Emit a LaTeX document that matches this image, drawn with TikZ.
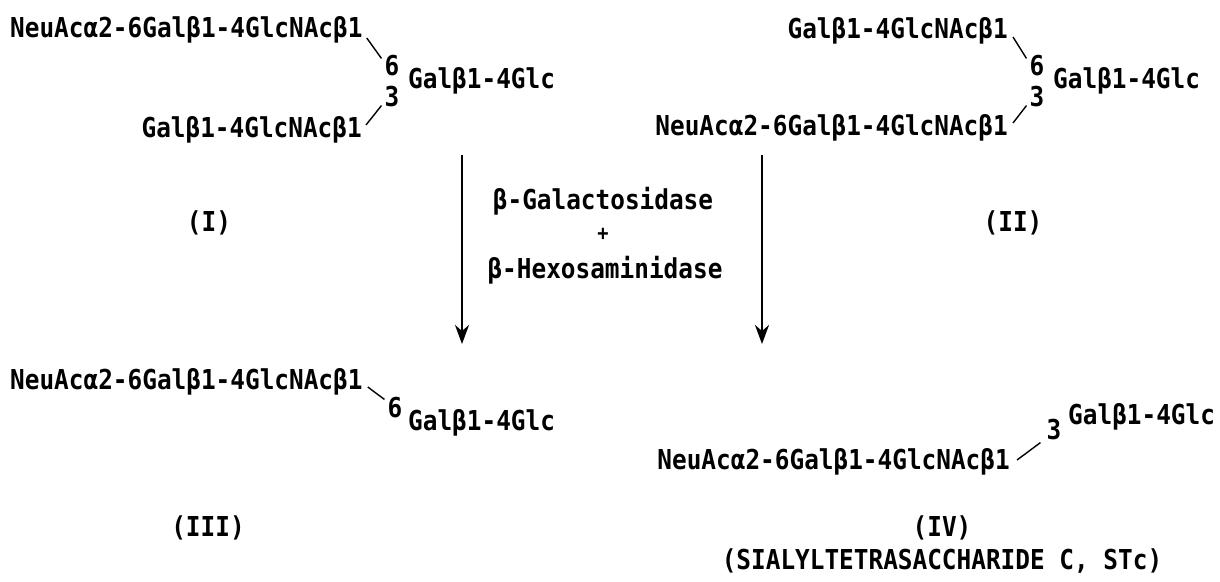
\documentclass[tikz,border=0pt]{standalone}
\usepackage{fontspec}
\setmainfont{DejaVu Sans Mono}[FakeStretch=0.89]
\usetikzlibrary{arrows.meta}
\tikzset{
  txt/.style={inner sep=0pt, font=\bfseries\fontsize{27.4}{29}\selectfont},
  plus/.style={inner sep=0pt, font=\bfseries\fontsize{21}{23}\selectfont},
  link/.style={line width=1.4pt},
  rxn/.style={line width=2pt, -{Stealth[length=19pt,width=14pt,inset=6pt]}}
}
\begin{document}
\begin{tikzpicture}[x=1pt,y=-1pt]
\useasboundingbox[fill=white] (0,0) rectangle (1220,581);
% ---- Structure I
\node[txt,anchor=west] (Ia) at (10,30) {NeuAcα2-6Galβ1-4GlcNAcβ1};
\node[txt] (I6) at (392,66) {6};
\node[txt] (I3) at (392,97) {3};
\node[txt,anchor=west] (Ir) at (408,81) {Galβ1-4Glc};
\node[txt,anchor=east] (Ib) at (362,130) {Galβ1-4GlcNAcβ1};
\draw[link] ([xshift=4pt,yshift=-8pt]Ia.east) -- ([xshift=-3pt,yshift=-3pt]I6.north west);
\draw[link] ([xshift=4pt,yshift=5pt]Ib.east) -- ([xshift=-3pt,yshift=2pt]I3.south west);
\node[txt] (Il) at (209,223) {(I)};
% ---- Structure II
\node[txt,anchor=east] (IIa) at (1008,31) {Galβ1-4GlcNAcβ1};
\node[txt] (II6) at (1037,66) {6};
\node[txt] (II3) at (1037,97) {3};
\node[txt,anchor=west] (IIr) at (1053,81) {Galβ1-4Glc};
\node[txt,anchor=east] (IIb) at (1008,128) {NeuAcα2-6Galβ1-4GlcNAcβ1};
\draw[link] ([xshift=5pt,yshift=-6pt]IIa.east) -- ([xshift=-3pt,yshift=-3pt]II6.north west);
\draw[link] ([xshift=5pt,yshift=5pt]IIb.east) -- ([xshift=-3pt,yshift=2pt]II3.south west);
\node[txt] (IIl) at (1013,223) {(II)};
% ---- arrows and enzymes
\coordinate (LAs) at (462,155);
\coordinate (LAe) at (462,344);
\coordinate (RAs) at (762,155);
\coordinate (RAe) at (762,344);
\draw[rxn] (LAs) -- (LAe);
\draw[rxn] (RAs) -- (RAe);
\node[txt] (E1) at (603,201) {β-Galactosidase};
\node[plus] (Eplus) at (603,234) {+};
\node[txt] (E2) at (605,270) {β-Hexosaminidase};
% ---- Structure III
\node[txt,anchor=west] (IIIa) at (10,382) {NeuAcα2-6Galβ1-4GlcNAcβ1};
\node[txt] (III6) at (395,408) {6};
\node[txt,anchor=west] (IIIr) at (408,423) {Galβ1-4Glc};
\draw[link] ([xshift=5pt,yshift=-5pt]IIIa.east) -- ([xshift=-3pt,yshift=-2pt]III6.north west);
\node[txt] (IIIl) at (208,528) {(III)};
% ---- Structure IV
\node[txt,anchor=west] (IVr) at (1068,417) {Galβ1-4Glc};
\node[txt] (IV3) at (1054,430) {3};
\node[txt,anchor=east] (IVb) at (1010,462) {NeuAcα2-6Galβ1-4GlcNAcβ1};
\draw[link] ([xshift=7pt,yshift=2pt]IVb.east) -- ([xshift=-6pt,yshift=-2pt]IV3.south west);
\node[txt] (IVl) at (942,528) {(IV)};
\node[txt] (STc) at (942,561) {(SIALYLTETRASACCHARIDE C, STc)};
\end{tikzpicture}
\end{document}
